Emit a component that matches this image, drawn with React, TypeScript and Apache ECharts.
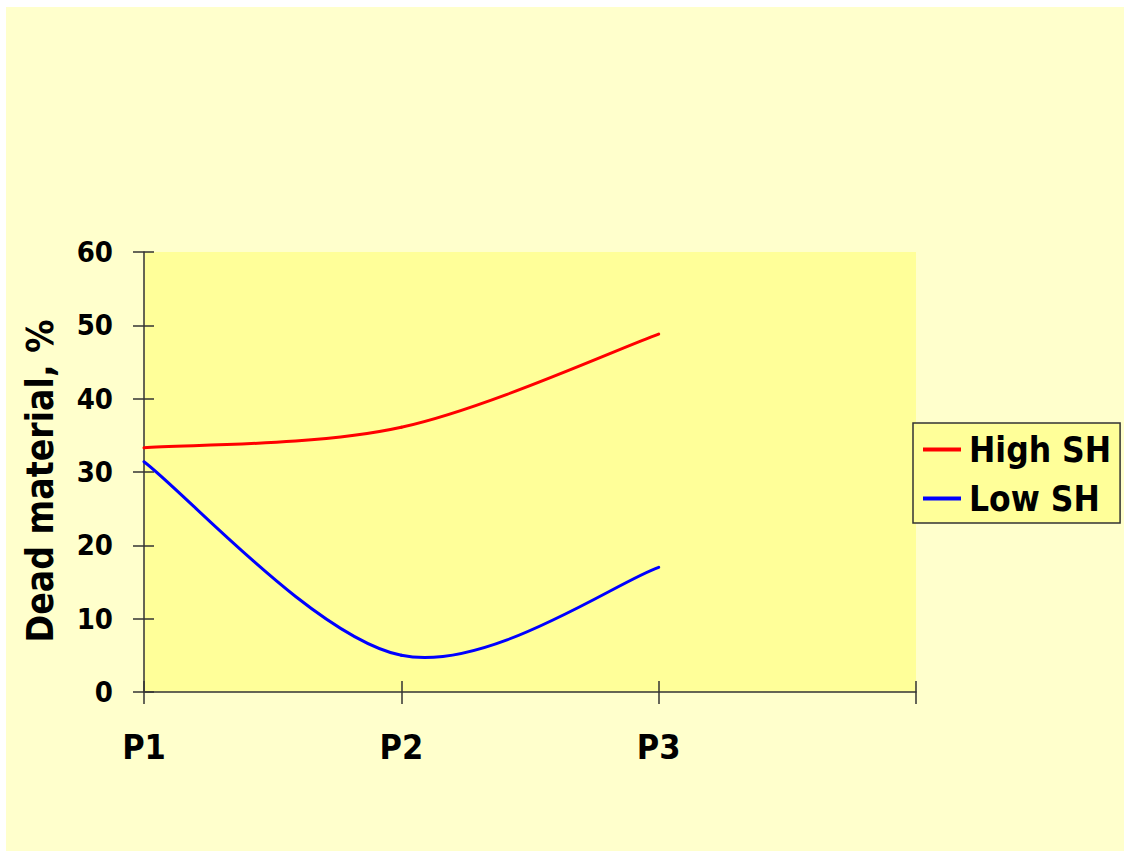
import React, { useEffect, useRef } from "react";
import * as echarts from "echarts";

const categories = ["P1", "P2", "P3", ""];
const highSH = [33.3, 36.1, 48.8];
const lowSH = [31.4, 5.0, 17.0];
const seriesNames = ["High SH", "Low SH"];
const seriesColors = ["#FF0000", "#0000FF"];
const yAxisTitle = "Dead material, %";

const FONT = '"DejaVu Sans Condensed", "DejaVu Sans", "Liberation Sans", sans-serif';
const AXIS_COLOR = "#333333";

// Smoothed line (Catmull-Rom style Bezier, like a spreadsheet "smoothed line"),
// every point mapped through the chart's own axes with api.coord.
function makeRender(values: number[], color: string) {
  return (params: any, api: any) => {
    const i = params.dataIndex;
    if (i >= values.length - 1) return null;
    const pts = values.map((v, k) => api.coord([k, v]));
    const p = (k: number) => pts[Math.max(0, Math.min(pts.length - 1, k))];
    const p0 = p(i - 1);
    const p1 = p(i);
    const p2 = p(i + 1);
    const p3 = p(i + 2);
    return {
      type: "bezierCurve",
      shape: {
        x1: p1[0],
        y1: p1[1],
        x2: p2[0],
        y2: p2[1],
        cpx1: p1[0] + (p2[0] - p0[0]) / 6,
        cpy1: p1[1] + (p2[1] - p0[1]) / 6,
        cpx2: p2[0] - (p3[0] - p1[0]) / 6,
        cpy2: p2[1] - (p3[1] - p1[1]) / 6,
      },
      style: { stroke: color, lineWidth: 3, fill: "none", lineCap: "round" },
    };
  };
}

export default function App() {
  const ref = useRef<HTMLDivElement | null>(null);

  useEffect(() => {
    if (!ref.current) return;
    const chart = echarts.init(ref.current, null, { renderer: "svg" });
    const xBase = {
      type: "category" as const,
      data: categories,
      boundaryGap: false,
      position: "bottom" as const,
    };
    const yBase = {
      type: "value" as const,
      min: 0,
      max: 60,
      interval: 10,
      position: "left" as const,
      splitLine: { show: false },
    };
    const seriesData = [highSH, lowSH];
    chart.setOption({
      animation: false,
      backgroundColor: "#FFFFCC",
      textStyle: { fontFamily: FONT },
      grid: {
        left: 138,
        top: 245,
        width: 772,
        height: 440,
        show: true,
        backgroundColor: "#FFFF99",
        borderWidth: 0,
        containLabel: false,
      },
      legend: {
        data: seriesNames,
        orient: "vertical",
        left: 907,
        top: 416,
        backgroundColor: "#FFFF99",
        borderColor: AXIS_COLOR,
        borderWidth: 1.5,
        borderRadius: 0,
        padding: [9, 9, 7, 10],
        itemGap: 14,
        itemWidth: 38,
        itemHeight: 4,
        icon: "rect",
        textStyle: {
          fontFamily: FONT,
          fontSize: 35,
          fontWeight: "bold",
          color: "#000",
          padding: [0, 0, 0, 3],
        },
      },
      xAxis: [
        {
          ...xBase,
          axisLine: { show: true, lineStyle: { color: AXIS_COLOR, width: 1.5 } },
          axisTick: { show: true, inside: false, length: 12, lineStyle: { color: AXIS_COLOR, width: 1.5 } },
          axisLabel: {
            show: true,
            margin: 38,
            fontFamily: FONT,
            fontSize: 34,
            fontWeight: "bold",
            color: "#000",
          },
          splitLine: { show: false },
        },
        {
          ...xBase,
          axisLine: { show: false },
          axisTick: { show: true, inside: true, length: 11, lineStyle: { color: AXIS_COLOR, width: 1.5 } },
          axisLabel: { show: false },
          splitLine: { show: false },
        },
      ],
      yAxis: [
        {
          ...yBase,
          name: yAxisTitle,
          nameLocation: "middle",
          nameRotate: 90,
          nameGap: 85,
          nameTextStyle: {
            fontFamily: FONT,
            fontSize: 37,
            fontWeight: "bold",
            color: "#000",
            padding: [0, 18, 0, 0],
          },
          axisLine: { show: true, lineStyle: { color: AXIS_COLOR, width: 1.5 } },
          axisTick: { show: true, inside: false, length: 11, lineStyle: { color: AXIS_COLOR, width: 1.5 } },
          axisLabel: {
            show: true,
            margin: 31,
            fontFamily: FONT,
            fontSize: 29,
            fontWeight: "bold",
            color: "#000",
          },
        },
        {
          ...yBase,
          axisLine: { show: false },
          axisTick: { show: true, inside: true, length: 10, lineStyle: { color: AXIS_COLOR, width: 1.5 } },
          axisLabel: { show: false },
        },
      ],
      series: seriesNames.map((name, s) => ({
        name,
        type: "custom",
        xAxisIndex: 0,
        yAxisIndex: 0,
        data: seriesData[s].map((v, k) => [k, v]),
        encode: { x: 0, y: 1 },
        itemStyle: { color: seriesColors[s] },
        renderItem: makeRender(seriesData[s], seriesColors[s]),
      })),
    });
    return () => chart.dispose();
  }, []);

  return (
    <div
      ref={ref}
      style={{ position: "absolute", left: 6, top: 7, width: 1118, height: 844 }}
    />
  );
}
